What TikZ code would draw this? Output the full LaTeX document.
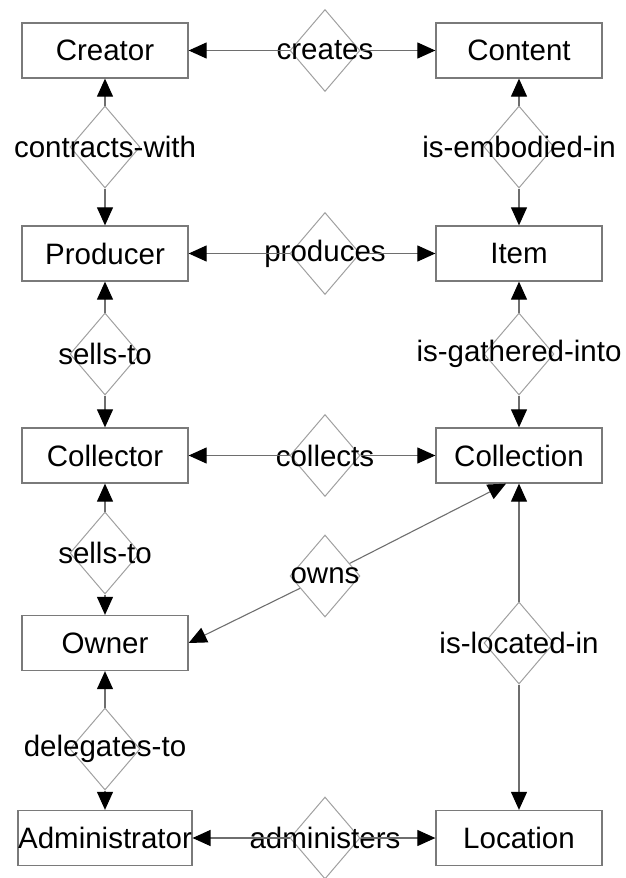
\documentclass[tikz,border=0pt]{standalone}
\usepackage{fontspec}
\setmainfont{Liberation Sans}
\usetikzlibrary{shapes.geometric,arrows.meta,calc}
\definecolor{boxgray}{HTML}{7A7A7A}
\definecolor{diagray}{HTML}{A0A0A0}
\definecolor{linegray}{HTML}{6E6E6E}
\begin{document}
\begin{tikzpicture}[x=1pt,y=-1pt,
  txt/.style={font=\fontsize{29.5}{32}\selectfont,text=black,inner sep=0pt},
  entity/.style={draw=boxgray,line width=1.3pt,fill=white,minimum width=166pt,
    minimum height=55pt,inner sep=0pt,txt},
  rel/.style={diamond,draw=diagray,line width=1pt,minimum width=70pt,
    minimum height=82pt,inner sep=0pt,label={[txt]center:#1}},
  tip/.tip={Triangle[length=18pt,width=16pt,color=black]},
  link/.style={draw=linegray,line width=1.1pt,-tip},
]
\useasboundingbox (0,0) rectangle (625,878);

% entities
\node[entity] (creator)    at (105,50.5)  {Creator};
\node[entity] (content)    at (519,50.5)  {Content};
\node[entity] (producer)   at (105,253.5) {Producer};
\node[entity] (item)       at (519,253.5) {Item};
\node[entity] (collector)  at (105,455.5) {Collector};
\node[entity] (collection) at (519,455.5) {Collection};
\node[entity] (owner)      at (105,643)   {Owner};
\node[entity] (admin)      at (105,838)   {Administrator};
\node[entity] (location)   at (519,838)   {Location};

% relationships
\node[rel=creates]          (creates)    at (325,50.5)  {};
\node[rel=contracts-with]   (contracts)  at (105,147)   {};
\node[rel=is-embodied-in]   (embodied)   at (519,147)   {};
\node[rel=produces]         (produces)   at (325,253.5) {};
\node[rel=sells-to]         (sellsA)     at (105,354)   {};
\node[rel=is-gathered-into] (gathered)   at (519,354)   {};
\node[rel=collects]         (collects)   at (325,455.5) {};
\node[rel=sells-to]         (sellsB)     at (105,553)   {};
\node[rel=owns]             (owns)       at (325,576)   {};
\node[rel=is-located-in]    (located)    at (519,643)   {};
\node[rel=delegates-to]     (delegates)  at (105,749)   {};
\node[rel=administers]      (administers) at (325,838)  {};

\coordinate (ownsEnd) at ($(collection.south)+(-13,0)$);

% connectors: each relationship points at both of its entities
\draw[link] (creates.west) -- (creator.east);
\draw[link] (creates.east) -- (content.west);
\draw[link] (contracts.north) -- (creator.south);
\draw[link] (contracts.south) -- (producer.north);
\draw[link] (embodied.north) -- (content.south);
\draw[link] (embodied.south) -- (item.north);
\draw[link] (produces.west) -- (producer.east);
\draw[link] (produces.east) -- (item.west);
\draw[link] (sellsA.north) -- (producer.south);
\draw[link] (sellsA.south) -- (collector.north);
\draw[link] (gathered.north) -- (item.south);
\draw[link] (gathered.south) -- (collection.north);
\draw[link] (collects.west) -- (collector.east);
\draw[link] (collects.east) -- (collection.west);
\draw[link] (sellsB.north) -- (collector.south);
\draw[link] (sellsB.south) -- (owner.north);
\draw[link] (owns) -- (owner.east);
\draw[link] (owns) -- (ownsEnd);
\draw[link] (located.north) -- (collection.south);
\draw[link] (located.south) -- (location.north);
\draw[link] (delegates.north) -- (owner.south);
\draw[link] (delegates.south) -- (admin.north);
\draw[link] (administers.west) -- (admin.east);
\draw[link] (administers.east) -- (location.west);
\end{tikzpicture}
\end{document}
